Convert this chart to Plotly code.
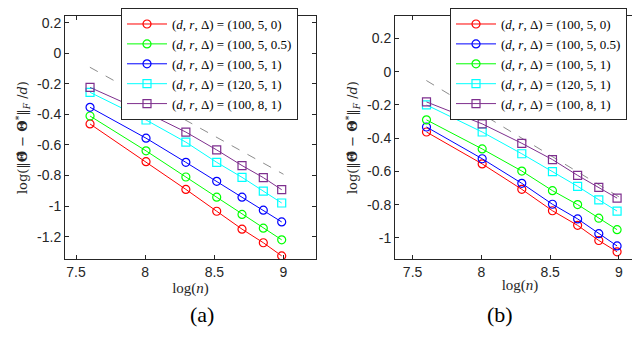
import numpy as np
import plotly.graph_objects as go

# sample sizes n = 2000..8000, plotted on log scale
log_n = [7.601, 8.006, 8.294, 8.517, 8.700, 8.854, 8.987]

labels = ["(100, 5, 0)", "(100, 5, 0.5)", "(100, 5, 1)", "(120, 5, 1)", "(100, 8, 1)"]

# panel (a)
err_a = {
    "(100, 5, 0)":   [-0.463, -0.710, -0.891, -1.034, -1.151, -1.240, -1.326],
    "(100, 5, 0.5)": [-0.411, -0.639, -0.810, -0.942, -1.055, -1.145, -1.221],
    "(100, 5, 1)":   [-0.354, -0.556, -0.714, -0.838, -0.942, -1.027, -1.104],
    "(120, 5, 1)":   [-0.256, -0.437, -0.582, -0.714, -0.812, -0.903, -0.980],
    "(100, 8, 1)":   [-0.224, -0.388, -0.516, -0.633, -0.735, -0.814, -0.893],
}
# panel (b)
err_b = {
    "(100, 5, 0)":   [-0.363, -0.555, -0.708, -0.837, -0.925, -1.016, -1.084],
    "(100, 5, 0.5)": [-0.333, -0.524, -0.672, -0.798, -0.886, -0.975, -1.049],
    "(100, 5, 1)":   [-0.290, -0.465, -0.598, -0.716, -0.800, -0.882, -0.951],
    "(120, 5, 1)":   [-0.200, -0.363, -0.494, -0.602, -0.690, -0.771, -0.839],
    "(100, 8, 1)":   [-0.182, -0.314, -0.431, -0.529, -0.624, -0.696, -0.761],
}

# reference slope -1/2 line
ref_x = [7.6, 9.0]
ref_a = [-0.092, -0.792]
ref_b = [-0.053, -0.753]

colors_a = ['#FF0000', '#00FF00', '#0000FF', '#00FFFF', '#7E2F8E']
colors_b = ['#FF0000', '#0000FF', '#00FF00', '#00FFFF', '#7E2F8E']
symbols = ['circle-open', 'circle-open', 'circle-open', 'square-open', 'square-open']

serif = 'Liberation Serif'
sans = 'Liberation Sans'

fig = go.Figure()


def add_panel(err, colors, ref_y, xa, ya, legend):
    fig.add_trace(go.Scatter(x=ref_x, y=ref_y, mode='lines', xaxis=xa, yaxis=ya,
                             line=dict(color='#8c8c8c', width=1, dash='dash'),
                             showlegend=False, hoverinfo='skip'))
    for lab, c, s in zip(labels, colors, symbols):
        fig.add_trace(go.Scatter(
            x=log_n, y=err[lab], mode='lines+markers', xaxis=xa, yaxis=ya,
            name='(<i>d</i>, <i>r</i>, Δ) = ' + lab, legend=legend,
            line=dict(color=c, width=1),
            marker=dict(symbol=s, size=8, color=c, line=dict(width=1.2, color=c)),
        ))


add_panel(err_a, colors_a, ref_a, 'x', 'y', 'legend')
add_panel(err_b, colors_b, ref_b, 'x2', 'y2', 'legend2')

ax_common = dict(showline=True, mirror='ticks', linecolor='#262626', linewidth=1,
                 ticks='inside', ticklen=4, tickcolor='#262626', showgrid=False,
                 zeroline=False, tickfont=dict(family=sans, size=14, color='#262626'))

ytitle = 'log(‖<b>Θ̂</b> − <b>Θ</b><sup>*</sup>‖<sub><i>F</i></sub> /<i>d</i>)'
xtitle = 'log(<i>n</i>)'
ytfont = dict(family='DejaVu Serif', size=13, color='#262626')

leg_common = dict(bgcolor='white', bordercolor='#262626', borderwidth=1,
                  font=dict(family=serif, size=13, color='black'),
                  xanchor='left', yanchor='top', y=1.02, itemwidth=40,
                  tracegroupgap=0)

fig.update_layout(
    width=640, height=355,
    margin=dict(l=0, r=0, t=0, b=0),
    paper_bgcolor='white', plot_bgcolor='white',
    xaxis=dict(domain=[57/640, 308/640], range=[7.42, 9.235], anchor='y',
               tickvals=[7.5, 8, 8.5, 9], ticktext=['7.5', '8', '8.5', '9'],
               title=dict(text=xtitle, font=dict(family=serif, size=15, color='#262626'),
                          standoff=0),
               **ax_common),
    yaxis=dict(domain=[1 - 249/355, 0.997], range=[-1.347, 0.243], anchor='x',
               tickvals=[0.2, 0, -0.2, -0.4, -0.6, -0.8, -1, -1.2],
               ticktext=['0.2', '0', '-0.2', '-0.4', '-0.6', '-0.8', '-1', '-1.2'],
               title=dict(text=ytitle, font=ytfont, standoff=6),
               **ax_common),
    xaxis2=dict(domain=[387/640, 637/640], range=[7.372, 9.19], anchor='y2',
                tickvals=[7.5, 8, 8.5, 9], ticktext=['7.5', '8', '8.5', '9'],
                title=dict(text=xtitle, font=dict(family=serif, size=15, color='#262626'),
                           standoff=0),
                **ax_common),
    yaxis2=dict(domain=[1 - 249/355, 0.997], range=[-1.128, 0.335], anchor='x2',
                tickvals=[0.2, 0, -0.2, -0.4, -0.6, -0.8, -1],
                ticktext=['0.2', '0', '-0.2', '-0.4', '-0.6', '-0.8', '-1'],
                title=dict(text=ytitle, font=ytfont, standoff=6),
                **ax_common),
    legend=dict(x=113/640, **leg_common),
    legend2=dict(x=442/640, **leg_common),
    annotations=[
        dict(text='(a)', x=180/640, y=1 - 320/355, xref='paper', yref='paper',
             showarrow=False, font=dict(family=serif, size=22, color='black')),
        dict(text='(b)', x=507/640, y=1 - 320/355, xref='paper', yref='paper',
             showarrow=False, font=dict(family=serif, size=22, color='black')),
    ],
)

fig.write_html("out.html")
